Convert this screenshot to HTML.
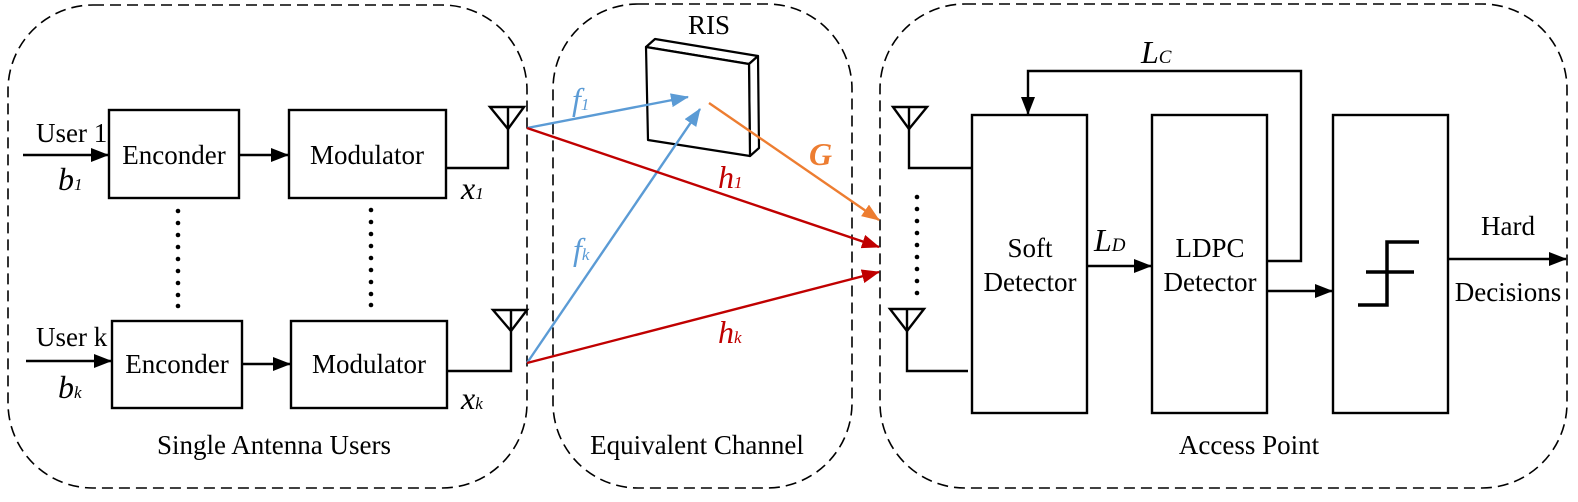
<!DOCTYPE html>
<html><head><meta charset="utf-8"><style>
html,body{margin:0;padding:0;background:#fff;}
svg{display:block;}
text{font-family:"Liberation Serif",serif;fill:#000;}
.it{font-style:italic;}
</style></head><body>
<svg width="1578" height="502" viewBox="0 0 1578 502" xmlns="http://www.w3.org/2000/svg">
<defs>
<marker id="ab" markerWidth="18" markerHeight="14" refX="17" refY="7" orient="auto" markerUnits="userSpaceOnUse"><path d="M0,0 L18,7 L0,14 z" fill="#000"/></marker>
<marker id="bl" markerWidth="18" markerHeight="14" refX="17" refY="7" orient="auto" markerUnits="userSpaceOnUse"><path d="M0,0 L18,7 L0,14 z" fill="#5b9bd5"/></marker>
<marker id="rd" markerWidth="18" markerHeight="14" refX="17" refY="7" orient="auto" markerUnits="userSpaceOnUse"><path d="M0,0 L18,7 L0,14 z" fill="#c00000"/></marker>
<marker id="or" markerWidth="18" markerHeight="14" refX="17" refY="7" orient="auto" markerUnits="userSpaceOnUse"><path d="M0,0 L18,7 L0,14 z" fill="#ed7d31"/></marker>
</defs>
<g fill="none" stroke="#000" stroke-width="1.6" stroke-dasharray="11,6">
<rect x="8" y="5" width="519" height="483" rx="85"/>
<rect x="553" y="4" width="299" height="484" rx="85"/>
<rect x="880" y="4" width="687" height="484" rx="85"/>
</g>
<g fill="none" stroke="#000" stroke-width="2.4">
<rect x="109" y="110" width="130" height="88"/>
<rect x="289" y="110" width="157" height="88"/>
<rect x="112" y="321" width="130" height="87"/>
<rect x="291" y="321" width="156" height="87"/>
<line x1="23" y1="155" x2="108" y2="155" marker-end="url(#ab)"/>
<line x1="239" y1="155" x2="288" y2="155" marker-end="url(#ab)"/>
<line x1="26" y1="361" x2="111" y2="361" marker-end="url(#ab)"/>
<line x1="242" y1="364" x2="290" y2="364" marker-end="url(#ab)"/>
<polyline points="446,168 508,168 508,107"/>
<path d="M490,107 L524,107 L508,129 z"/>
<polyline points="447,371 511,371 511,310"/>
<path d="M493,310 L527,310 L511,331 z"/>
<rect x="972" y="115" width="115" height="298"/>
<rect x="1152" y="115" width="115" height="298"/>
<rect x="1333" y="115" width="115" height="298"/>
<polyline points="909,107 909,168 972,168"/>
<path d="M893,107 L927,107 L909,129 z"/>
<polyline points="907,309 907,371 968,371"/>
<path d="M890,309 L924,309 L907,331 z"/>
<polyline points="1267,261 1301,261 1301,71 1028,71 1028,114" marker-end="url(#ab)"/>
<line x1="1087" y1="266" x2="1151" y2="266" marker-end="url(#ab)"/>
<line x1="1267" y1="291" x2="1332" y2="291" marker-end="url(#ab)"/>
<line x1="1448" y1="259" x2="1566" y2="259" marker-end="url(#ab)"/>
</g>
<g fill="none" stroke="#000" stroke-width="3.5">
<polyline points="1419,242 1387,242 1387,305 1358,305"/>
<line x1="1366" y1="272" x2="1414" y2="272"/>
</g>
<g fill="#000">
<circle cx="178" cy="211" r="2.3"/><circle cx="178" cy="223" r="2.3"/><circle cx="178" cy="235" r="2.3"/><circle cx="178" cy="247" r="2.3"/><circle cx="178" cy="259" r="2.3"/><circle cx="178" cy="271" r="2.3"/><circle cx="178" cy="283" r="2.3"/><circle cx="178" cy="295" r="2.3"/><circle cx="178" cy="306" r="2.3"/>
<circle cx="371" cy="210" r="2.3"/><circle cx="371" cy="222" r="2.3"/><circle cx="371" cy="234" r="2.3"/><circle cx="371" cy="246" r="2.3"/><circle cx="371" cy="258" r="2.3"/><circle cx="371" cy="270" r="2.3"/><circle cx="371" cy="282" r="2.3"/><circle cx="371" cy="294" r="2.3"/><circle cx="371" cy="305" r="2.3"/>
<circle cx="917" cy="197" r="2.3"/><circle cx="917" cy="209" r="2.3"/><circle cx="917" cy="221" r="2.3"/><circle cx="917" cy="233" r="2.3"/><circle cx="917" cy="245" r="2.3"/><circle cx="917" cy="257" r="2.3"/><circle cx="917" cy="269" r="2.3"/><circle cx="917" cy="281" r="2.3"/><circle cx="917" cy="293" r="2.3"/>
</g>
<!-- RIS -->
<g fill="#fff" stroke="#000" stroke-width="2.2" stroke-linejoin="round">
<path d="M646,47 L655,39 L758,56 L749,64 z"/>
<path d="M749,64 L758,56 L759,148 L750,156 z"/>
<path d="M646,47 L749,64 L750,156 L648,140 z"/>
</g>
<g stroke-width="2.4" fill="none">
<line x1="527" y1="128" x2="688" y2="97" stroke="#5b9bd5" marker-end="url(#bl)"/>
<line x1="527" y1="363" x2="700" y2="109" stroke="#5b9bd5" marker-end="url(#bl)"/>
<line x1="709" y1="103" x2="879" y2="220" stroke="#ed7d31" marker-end="url(#or)"/>
<line x1="527" y1="128" x2="879" y2="247" stroke="#c00000" marker-end="url(#rd)"/>
<line x1="527" y1="363" x2="879" y2="272" stroke="#c00000" marker-end="url(#rd)"/>
</g>
<g font-size="27">
<text x="36" y="142">User 1</text>
<text x="36" y="346">User k</text>
<text x="174" y="164" text-anchor="middle">Enconder</text>
<text x="367" y="164" text-anchor="middle">Modulator</text>
<text x="177" y="373" text-anchor="middle">Enconder</text>
<text x="369" y="373" text-anchor="middle">Modulator</text>
<text x="274" y="454" text-anchor="middle">Single Antenna Users</text>
<text x="697" y="454" text-anchor="middle">Equivalent Channel</text>
<text x="1249" y="454" text-anchor="middle">Access Point</text>
<text x="709" y="34" text-anchor="middle">RIS</text>
<text x="1030" y="257" text-anchor="middle">Soft</text>
<text x="1030" y="291" text-anchor="middle">Detector</text>
<text x="1210" y="257" text-anchor="middle">LDPC</text>
<text x="1210" y="291" text-anchor="middle">Detector</text>
<text x="1508" y="235" text-anchor="middle">Hard</text>
<text x="1508" y="301" text-anchor="middle">Decisions</text>
</g>
<g>
<text x="58" y="190" font-size="32" class="it">b<tspan font-size="17">1</tspan></text>
<text x="58" y="398" font-size="32" class="it">b<tspan font-size="17">k</tspan></text>
<text x="461" y="199" font-size="32" class="it">x<tspan font-size="17">1</tspan></text>
<text x="461" y="409" font-size="32" class="it">x<tspan font-size="17">k</tspan></text>
<text x="572" y="110" font-size="32" class="it" style="fill:#5b9bd5">f<tspan font-size="17">1</tspan></text>
<text x="573" y="260" font-size="32" class="it" style="fill:#5b9bd5">f<tspan font-size="17">k</tspan></text>
<text x="809" y="165" font-size="32" class="it" font-weight="bold" style="fill:#ed7d31">G</text>
<text x="718" y="188" font-size="32" class="it" style="fill:#c00000">h<tspan font-size="17">1</tspan></text>
<text x="718" y="343" font-size="32" class="it" style="fill:#c00000">h<tspan font-size="17">k</tspan></text>
<text x="1141" y="63" font-size="32" class="it">L<tspan font-size="19">C</tspan></text>
<text x="1094" y="251" font-size="32" class="it">L<tspan font-size="19">D</tspan></text>
</g>
</svg>
</body></html>
